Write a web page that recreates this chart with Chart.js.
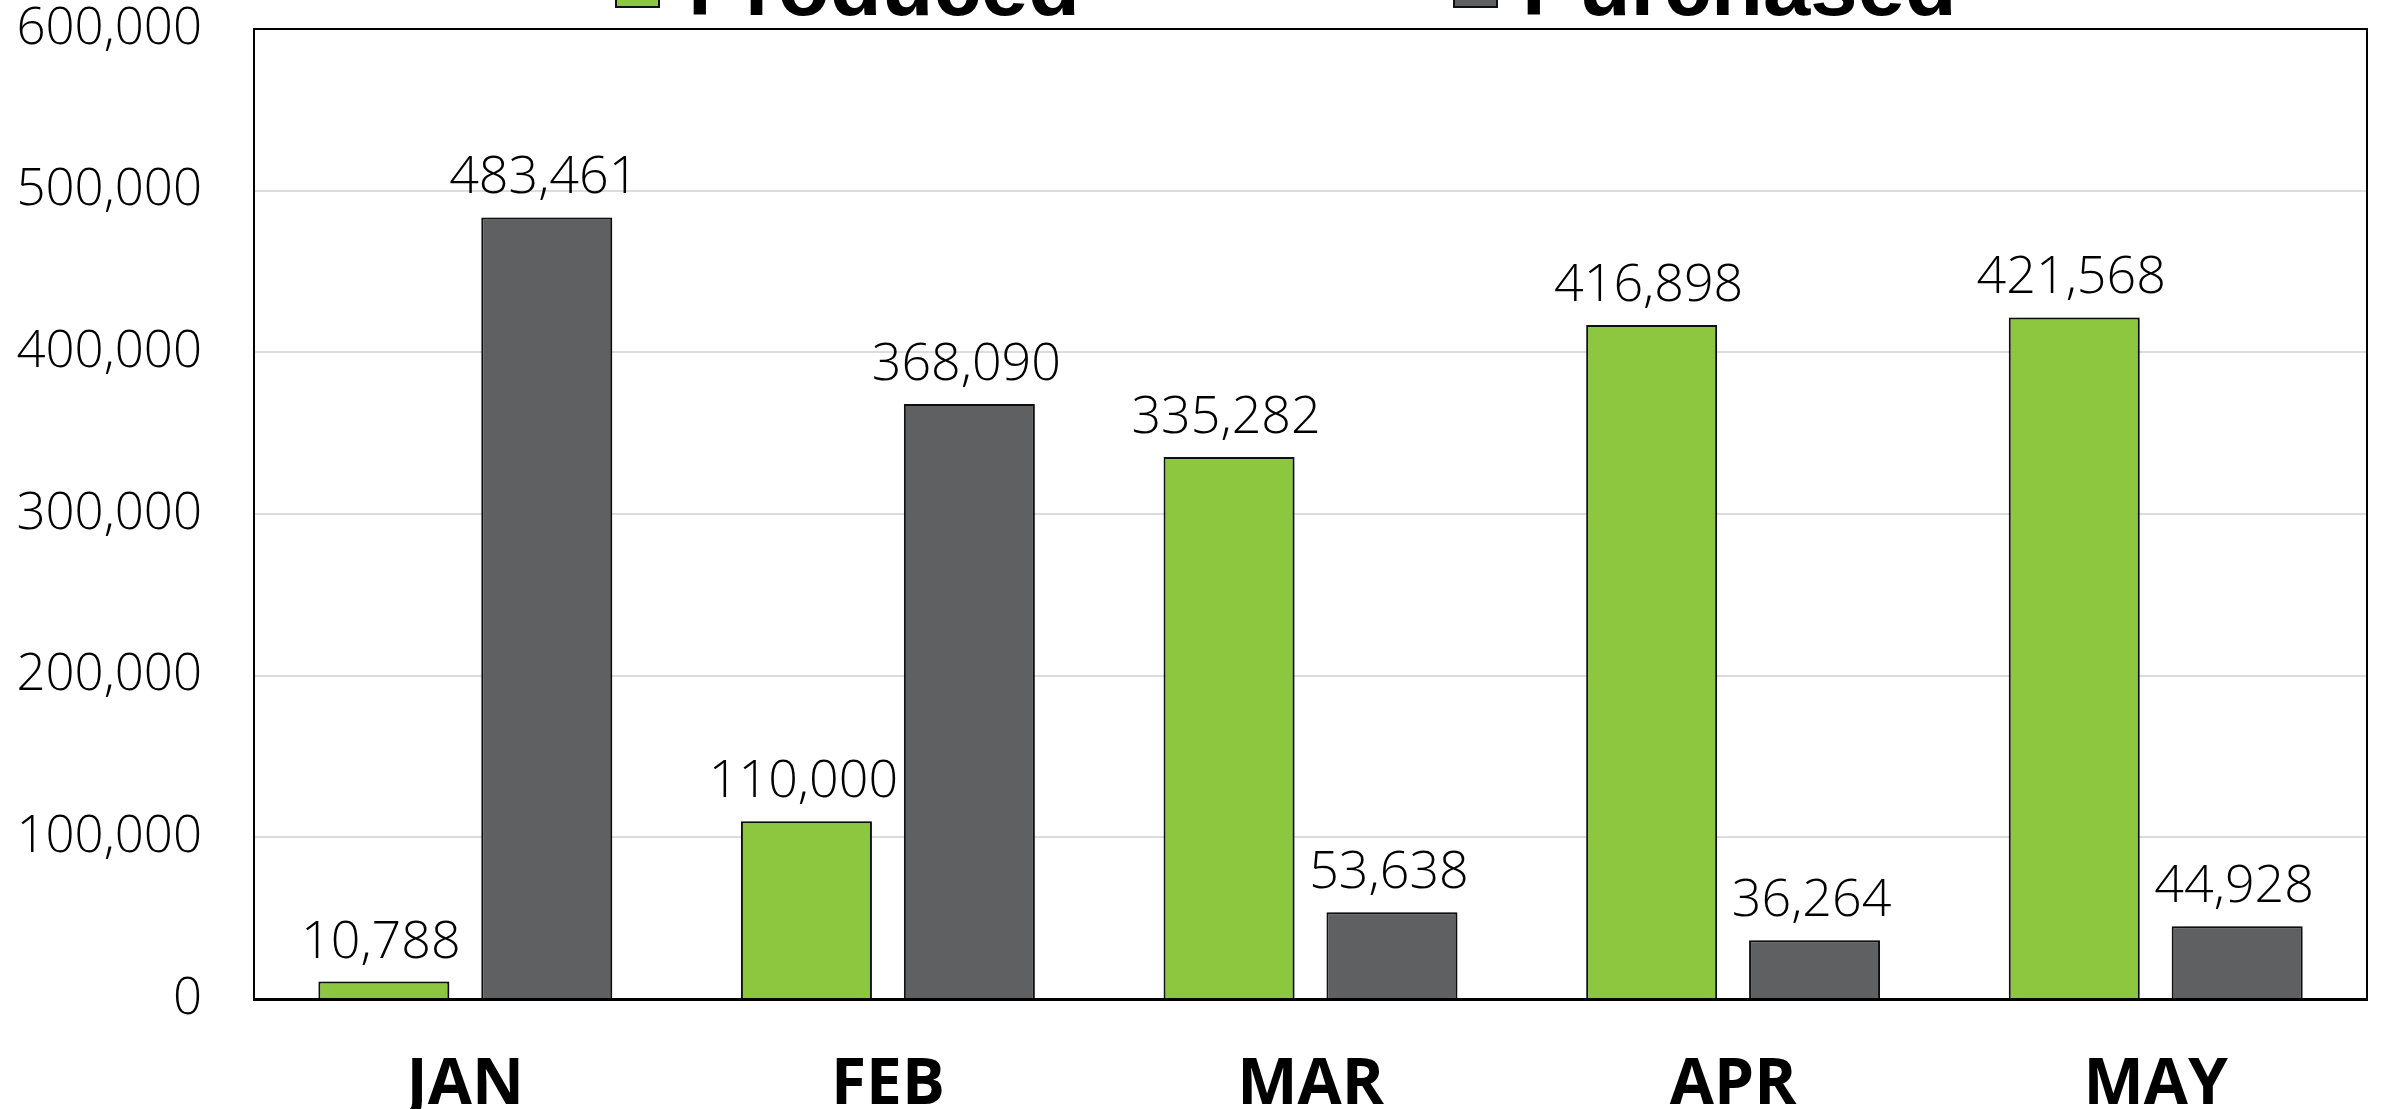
<!DOCTYPE html>
<html>
<head>
<meta charset="utf-8">
<script src="https://cdn.jsdelivr.net/npm/chart.js@4.4.1/dist/chart.umd.min.js"></script>
<style>
    html, body { margin: 0; padding: 0; background: #fff; overflow: hidden; }
    #wrap { position: relative; width: 2384px; height: 1109px; overflow: hidden; }
    #chart { position: absolute; left: 0; top: 0; }
    .lg-box { position: absolute; width: 41px; height: 41px; border: 2px solid #111; top: -37px; }
    .lg-text { position: absolute; top: -57px; font: 700 85px "Liberation Sans", Arial, sans-serif; line-height: 1; color: #000; white-space: nowrap; }
</style>
</head>
<body>
<div id="wrap">
    <canvas id="chart" width="2384" height="1109"></canvas>
    <div class="lg-box" style="left:615px;background:#8dc63f"></div>
    <div class="lg-text" style="left:688px">Produced</div>
    <div class="lg-box" style="left:1453px;background:#5f6062"></div>
    <div class="lg-text" style="left:1522px">Purchased</div>
</div>
<script>
// --- data ---
var months = ['JAN', 'FEB', 'MAR', 'APR', 'MAY'];
var produced = [10788, 110000, 335282, 416898, 421568];
var purchased = [483461, 368090, 53638, 36264, 44928];
var seriesNames = ['Produced', 'Purchased'];
var yMax = 600000;
var yStep = 100000;

var lightFont = '"Open Sans", "DejaVu Sans", sans-serif';

// box round the plot area + soft bar shadow + value labels
var extras = {
    id: 'extras',
    beforeDatasetsDraw: function (chart) {
        var ctx = chart.ctx;
        ctx.save();
        ctx.shadowColor = 'rgba(0,0,0,0.28)';
        ctx.shadowBlur = 6;
        ctx.shadowOffsetX = 3;
        ctx.shadowOffsetY = 0;
    },
    afterDatasetsDraw: function (chart) {
        var ctx = chart.ctx;
        ctx.restore();
        var a = chart.chartArea;
        ctx.save();
        ctx.strokeStyle = '#000';
        ctx.lineWidth = 2;
        ctx.strokeRect(a.left, a.top, a.right - a.left, a.bottom - a.top);
        ctx.font = '300 52px ' + lightFont;
        ctx.fillStyle = '#000';
        ctx.textAlign = 'center';
        ctx.textBaseline = 'alphabetic';
        chart.data.datasets.forEach(function (ds, i) {
            chart.getDatasetMeta(i).data.forEach(function (bar, j) {
                ctx.fillText(ds.data[j].toLocaleString('en-US'), bar.x - 3, bar.y - 24);
            });
        });
        ctx.restore();
    }
};

new Chart(document.getElementById('chart').getContext('2d'), {
    type: 'bar',
    data: {
        labels: months,
        datasets: [{
            label: seriesNames[0],
            data: produced,
            backgroundColor: '#8dc63f',
            borderColor: '#111',
            borderWidth: 2,
            categoryPercentage: 0.771,
            barPercentage: 0.804
        }, {
            label: seriesNames[1],
            data: purchased,
            backgroundColor: '#5f6062',
            borderColor: '#111',
            borderWidth: 2,
            categoryPercentage: 0.771,
            barPercentage: 0.804
        }]
    },
    options: {
        responsive: false,
        animation: false,
        layout: { padding: { top: 29, right: 17, left: 13, bottom: 0 } },
        plugins: {
            legend: { display: false },
            tooltip: { enabled: false }
        },
        scales: {
            x: {
                grid: { display: false },
                border: { color: '#000', width: 3 },
                ticks: {
                    color: '#000',
                    padding: 40,
                    font: { family: lightFont, size: 64, weight: '700' }
                },
                afterFit: function (s) { s.height = 110; s.paddingLeft = 0; s.paddingRight = 0; }
            },
            y: {
                min: 0,
                max: yMax,
                grid: { color: '#dcdcdc', lineWidth: 2, drawTicks: false },
                border: { color: '#000', width: 2 },
                ticks: {
                    stepSize: yStep,
                    color: '#000',
                    padding: 52,
                    font: { family: lightFont, size: 51, weight: '300' },
                    callback: function (v) { return v.toLocaleString('en-US'); }
                },
                afterFit: function (s) { s.width = 241; s.paddingTop = 0; s.paddingBottom = 0; }
            }
        }
    },
    plugins: [extras]
});
</script>
</body>
</html>
